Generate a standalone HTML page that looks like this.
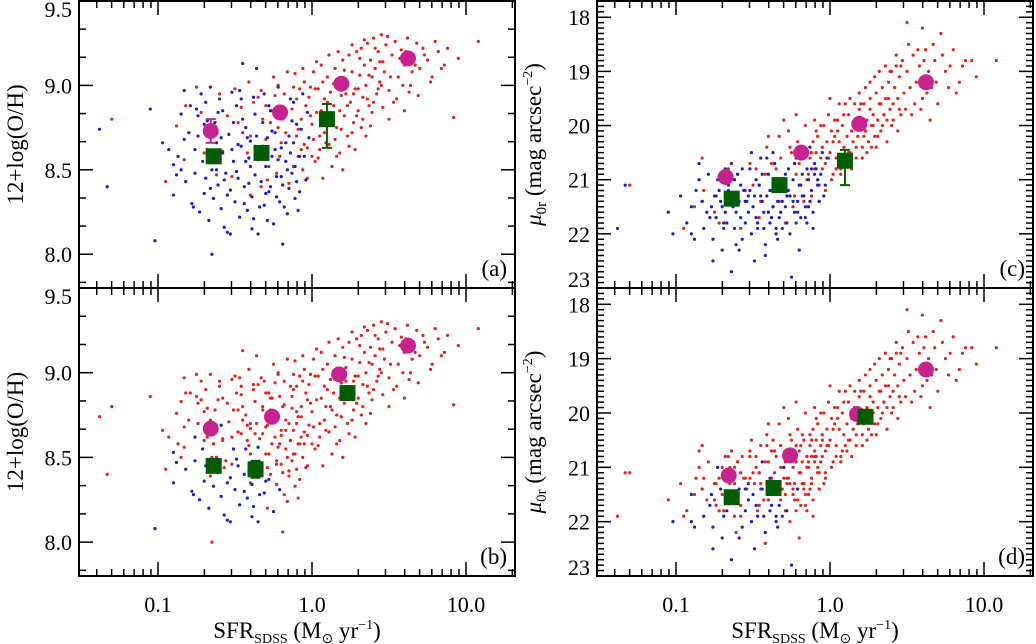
<!DOCTYPE html>
<html><head><meta charset="utf-8"><style>
html,body{margin:0;padding:0;background:#fff;}
svg{display:block;font-family:"Liberation Serif",serif;}
</style></head><body>
<svg id="fig" width="1036" height="644" viewBox="0 0 1036 644" xmlns="http://www.w3.org/2000/svg"></svg>
<script>
// galaxies: [log10 SFR, 12+log(O/H), mu0r, bottom-panel colour (1=red,0=blue)]
const blueGalaxies = [
[-1.38,8.74,21.9,1],[-1.33,8.40,21.1,1],[-1.05,8.86,21.6,1],[-1.02,8.08,22.0,0],[-0.97,8.66,21.3,1],[-0.93,8.62,21.8,1],[-0.90,8.53,21.5,0],[-0.88,8.47,22.1,0],[-0.87,8.58,21.2,1],[-0.85,8.83,21.0,1],
[-0.83,8.97,21.4,1],[-0.82,8.43,21.9,0],[-0.80,8.72,21.6,1],[-0.78,8.30,21.7,0],[-0.77,8.28,21.5,0],[-0.76,8.48,22.5,0],[-0.75,8.86,21.3,1],[-0.74,8.70,21.7,1],[-0.72,8.95,21.2,1],[-0.71,8.55,21.4,0],
[-0.70,8.36,22.3,0],[-0.69,8.45,21.9,0],[-0.68,8.62,21.6,1],[-0.67,8.20,21.8,0],[-0.66,8.99,21.1,1],[-0.65,8.50,21.3,1],[-0.64,8.33,22.7,0],[-0.63,8.78,21.5,1],[-0.62,8.66,21.9,1],[-0.61,8.41,21.6,0],
[-0.60,8.92,20.9,1],[-0.59,8.27,21.4,0],[-0.58,8.60,21.7,1],[-0.57,8.16,22.1,0],[-0.56,8.48,21.2,1],[-0.55,8.13,21.8,0],[-0.54,8.71,21.4,1],[-0.53,8.38,21.6,0],[-0.52,8.96,20.8,1],[-0.51,8.55,22.0,0],
[-0.50,8.31,21.5,0],[-0.49,8.88,21.3,1],[-0.48,8.45,21.7,0],[-0.47,8.22,21.9,0],[-0.46,8.64,21.1,1],[-0.45,9.13,20.6,1],[-0.44,8.40,21.4,0],[-0.43,8.75,21.6,1],[-0.42,8.26,22.2,0],[-0.41,8.57,21.3,1],
[-0.40,8.67,20.9,1],[-0.39,8.34,21.8,0],[-0.38,8.93,21.2,1],[-0.37,8.47,21.5,0],[-0.36,9.10,20.7,1],[-0.35,8.12,22.0,0],[-0.34,8.61,21.4,1],[-0.33,8.43,21.7,0],[-0.32,8.78,21.0,1],[-0.31,8.29,21.9,0],
[-0.30,8.52,21.2,1],[-0.29,8.69,21.5,1],[-0.28,8.37,21.8,0],[-0.27,8.85,20.8,1],[-0.26,8.58,21.3,1],[-0.25,8.18,22.8,0],[-0.24,8.72,21.0,1],[-0.23,8.46,21.6,1],[-0.22,8.99,20.6,1],[-0.21,8.31,21.4,0],
[-0.20,8.63,21.1,1],[-0.19,8.41,21.7,1],[-0.18,8.81,20.9,1],[-0.17,8.55,21.3,1],[-0.16,8.24,21.5,1],[-0.15,8.70,20.8,1],[-0.14,8.92,21.0,1],[-0.13,8.48,21.4,1],[-0.12,8.66,21.2,1],[-0.11,8.33,21.9,1],
[-0.10,8.77,20.7,1],[-0.08,8.58,21.1,1],[-0.06,8.95,20.9,1],[-0.04,8.44,21.3,1],[-0.02,8.69,20.6,1],[-0.65,8.00,21.0,1],[-0.58,8.85,21.1,1],[-0.48,8.65,21.0,1],[-0.40,8.52,21.6,1],[-0.32,8.64,21.6,1],
[-0.27,8.40,21.2,1],[-0.22,8.56,21.8,1],[-0.52,8.62,21.2,1],[-0.45,8.80,21.3,1],[-0.36,8.70,21.1,1],[-0.62,8.50,21.0,1],[-0.70,8.77,21.5,1],[-0.55,8.35,21.4,0],[-0.43,8.55,21.9,0],[-0.30,8.36,21.0,0],
[-0.18,8.28,21.3,1],[-0.24,8.62,21.4,1],[-0.16,8.50,21.7,1],[-0.12,8.90,20.8,1],[-0.08,8.37,21.0,1],[-0.83,8.68,21.4,1],[-0.74,8.82,21.3,1],[-0.66,8.39,21.2,1],[-0.46,8.92,21.1,1],[-0.38,8.21,21.7,0],
[-0.79,8.88,20.9,1],[-0.73,8.25,21.0,0],[-0.69,8.90,21.8,1],[-0.64,8.58,20.7,1],[-0.61,8.84,22.2,1],[-0.57,8.44,20.8,1],[-0.53,8.12,21.3,0],[-0.51,8.78,20.5,1],[-0.47,8.97,21.8,1],[-0.44,8.30,20.9,0],
[-0.42,8.69,22.4,1],[-0.39,8.15,21.2,0],[-0.37,8.83,20.5,1],[-0.34,8.28,22.1,0],[-0.31,8.95,21.4,1],[-0.29,8.20,20.9,1],[-0.26,8.73,22.0,1],[-0.23,8.34,20.7,1],[-0.21,8.86,21.6,1],[-0.19,8.06,21.1,1],
[-0.17,8.66,20.5,1],[-0.15,8.39,21.8,1],[-0.13,8.79,20.4,1],[-0.11,8.52,21.6,1],[-0.09,8.26,20.8,1],[-0.07,8.74,21.4,1],[-0.05,8.58,20.5,1],[-0.03,8.84,21.1,1],[-0.76,8.62,22.1,0],[-0.68,8.79,20.8,1],
[-0.59,8.69,22.3,0],[-0.49,8.49,22.5,0],[-0.41,8.42,20.6,1],[-0.35,8.56,21.9,0],[-0.28,8.88,21.3,1],[-0.20,8.46,22.3,1],[-0.14,8.60,21.5,1],[-0.10,8.43,20.9,1],[-0.85,8.50,20.7,1],[-0.90,8.35,22.0,0]
];
const redGalaxies = [
[-1.30,8.80,21.1],[-0.95,8.43,21.9],[-0.88,8.76,21.5],[-0.82,8.88,21.2],[-0.75,8.99,21.6],[-0.70,8.60,21.0],[-0.62,8.47,21.3],[-0.55,8.82,21.2],[-0.50,8.98,21.1],[-0.45,8.72,21.4],
[-0.40,8.35,21.6],[-0.35,8.93,20.8],[-0.32,8.80,20.6],[-0.28,8.52,21.2],[-0.25,9.05,20.5],[-0.22,8.75,20.9],[-0.20,8.66,20.7],[-0.18,8.95,20.4],[-0.15,8.42,21.0],[-0.13,8.86,20.6],
[-0.11,9.07,20.3],[-0.10,8.70,20.8],[-0.09,8.58,20.5],[-0.08,8.98,20.2],[-0.07,8.80,21.1],[-0.06,8.50,20.6],[-0.05,9.02,20.4],[-0.04,8.88,20.0],[-0.03,8.63,20.7],[-0.02,8.93,20.3],
[0.00,8.77,20.5],[0.01,9.08,20.1],[0.02,8.55,20.9],[0.03,8.84,20.2],[0.04,8.98,20.6],[0.05,8.70,19.9],[0.06,9.12,20.3],[0.07,8.45,20.8],[0.08,8.92,20.0],[0.09,8.80,20.4],
[0.10,9.05,20.6],[0.11,8.65,20.2],[0.12,8.96,19.8],[0.13,8.52,20.5],[0.14,8.88,20.1],[0.15,9.10,20.3],[0.16,8.75,19.9],[0.17,9.00,20.6],[0.18,8.60,20.2],[0.19,8.94,19.7],
[0.20,9.15,20.0],[0.21,8.82,20.4],[0.22,9.03,19.6],[0.23,8.70,20.1],[0.24,9.18,19.9],[0.25,8.90,20.3],[0.26,9.08,19.5],[0.27,8.78,20.0],[0.28,8.98,19.8],[0.29,9.20,20.2],
[0.30,8.85,19.4],[0.31,9.06,19.9],[0.32,9.22,19.6],[0.33,8.93,20.1],[0.34,9.12,19.3],[0.35,9.00,19.8],[0.36,9.25,19.5],[0.37,8.88,19.9],[0.38,9.15,19.2],[0.39,9.05,19.7],
[0.40,9.28,19.0],[0.41,9.10,19.6],[0.42,8.95,19.3],[0.43,9.20,18.9],[0.44,9.02,19.5],[0.45,9.30,19.1],[0.46,9.14,19.8],[0.47,9.08,18.8],[0.48,9.24,19.4],[0.50,8.97,19.0],
[0.52,9.18,19.3],[0.54,9.26,18.7],[0.56,9.05,19.2],[0.58,9.21,18.9],[0.60,9.12,19.5],[0.62,9.28,18.6],[0.64,9.00,19.0],[0.66,9.18,19.3],[0.68,9.25,18.8],[0.70,9.10,19.6],
[0.72,9.22,18.3],[0.75,9.15,19.0],[0.78,9.05,18.9],[0.82,9.20,19.4],[0.86,9.12,18.9],[0.92,8.81,18.8],[1.08,9.26,18.8],[0.50,8.80,18.1],[0.35,8.70,19.8],[0.28,8.62,20.0],
[-0.38,8.90,20.7],[-0.30,8.68,21.0],[-0.26,8.85,20.4],[-0.23,8.48,21.3],[-0.19,8.80,20.6],[-0.14,8.60,20.9],[-0.12,8.99,20.5],[-0.09,8.74,20.1],[-0.05,8.65,20.8],[-0.01,8.82,20.6],
[0.02,8.98,20.3],[0.05,8.62,20.1],[0.08,8.72,20.7],[0.12,8.80,20.5],[0.15,8.68,20.0],[0.18,8.85,19.9],[0.22,8.95,20.2],[0.26,8.72,19.7],[0.30,8.98,20.4],[0.33,8.80,19.6],
[-0.60,8.95,20.9],[-0.48,8.78,20.8],[-0.42,8.60,20.9],[-0.33,8.40,21.4],[0.40,8.90,20.0],[0.45,9.00,19.7],[0.55,8.92,19.6],[0.65,9.08,19.9],[0.38,8.76,19.5],[0.10,8.90,19.6],
[-0.83,8.56,20.6],[-0.72,8.84,21.8],[-0.66,8.72,20.8],[-0.58,8.61,21.9],[-0.52,8.46,20.7],[-0.46,8.87,21.7],[-0.41,9.02,20.4],[-0.37,8.64,21.5],[-0.33,8.97,20.2],[-0.29,8.44,21.8],
[-0.27,8.78,20.1],[-0.24,8.94,21.5],[-0.21,8.58,20.3],[-0.17,8.72,21.4],[-0.16,9.08,20.0],[-0.12,8.52,21.3],[-0.10,8.92,19.9],[-0.07,8.62,21.4],[-0.06,9.10,20.0],[-0.03,8.45,21.2],
[-0.01,8.99,19.8],[0.01,8.68,21.0],[0.03,9.14,19.9],[0.04,8.57,20.8],[0.06,8.85,19.6],[0.07,9.02,20.9],[0.09,8.66,19.8],[0.11,9.18,20.7],[0.13,8.78,19.5],[0.14,9.01,20.8],
[0.16,8.58,19.6],[0.17,9.20,20.4],[0.19,8.74,19.4],[0.21,9.09,20.6],[0.23,8.88,19.3],[0.24,8.64,20.5],[0.26,9.24,19.2],[0.27,8.95,20.4],[0.29,8.82,19.1],[0.31,9.16,20.2],
[0.32,8.75,19.0],[0.34,9.27,20.0],[0.36,8.92,18.9],[0.37,9.06,20.3],[0.39,8.84,19.0],[0.41,9.22,19.9],[0.43,8.98,18.7],[0.44,9.14,20.1],[0.46,8.87,18.9],[0.49,9.29,19.7],
[0.51,9.05,18.5],[0.53,8.90,19.8],[0.57,9.16,18.6],[0.59,9.00,19.7],[0.61,9.20,18.8],[0.63,8.96,19.4],[0.67,9.12,18.5],[0.69,8.94,19.2],[0.73,9.18,18.7],[0.77,9.02,19.3],
[0.80,9.26,18.6],[0.84,9.10,19.2],[0.88,9.22,18.8],[0.95,9.16,19.1],[-0.40,8.70,20.2],[-0.30,8.88,19.9],[-0.22,9.00,19.8],[0.00,8.58,19.5],[0.20,8.50,19.6],[0.60,8.85,18.2]
];
// binned means: SFR, value, error lo, error hi (0 = no bar)
const circA = [[0.22,8.73,8.66,8.80],[0.62,8.84,0,0],[1.55,9.01,0,0],[4.2,9.16,0,0]];
const sqA   = [[0.23,8.58,0,0],[0.47,8.60,0,0],[1.25,8.80,8.63,8.89]];
const circB = [[0.22,8.67,0,0],[0.55,8.74,0,0],[1.5,8.99,0,0],[4.2,9.16,0,0]];
const sqB   = [[0.23,8.45,0,0],[0.43,8.43,8.38,8.48],[1.7,8.88,0,0]];
const circC = [[0.21,20.95,0,0],[0.65,20.5,0,0],[1.55,19.97,0,0],[4.2,19.2,0,0]];
const sqC   = [[0.23,21.35,0,0],[0.47,21.1,0,0],[1.25,20.65,20.45,21.1]];
const circD = [[0.22,21.15,0,0],[0.55,20.78,0,0],[1.5,20.02,0,0],[4.2,19.2,0,0]];
const sqD   = [[0.23,21.55,0,0],[0.43,21.38,0,0],[1.7,20.07,0,0]];
const xTickLabels = ["0.1","1.0","10.0"];
const ohTickLabels = ["8.0","8.5","9.0","9.5"];
const muTickLabels = ["18","19","20","21","22","23"];

const NS="http://www.w3.org/2000/svg";
const svg=document.getElementById('fig');
function el(tag,attrs,parent){const e=document.createElementNS(NS,tag);for(const k in attrs)e.setAttribute(k,attrs[k]);(parent||svg).appendChild(e);return e;}

const panels=[
 {id:'a',x0:79,top:1,bot:288,ymin:7.8,ymax:9.5,inv:false,k:1,circ:circA,sq:sqA,bottomAxis:false},
 {id:'b',x0:79,top:288,bot:576,ymin:7.8,ymax:9.5,inv:false,k:1,circ:circB,sq:sqB,bottomAxis:true},
 {id:'c',x0:597,top:1,bot:288,ymin:17.7,ymax:23,inv:true,k:2,circ:circC,sq:sqC,bottomAxis:false},
 {id:'d',x0:597,top:288,bot:576,ymin:17.7,ymax:23,inv:true,k:2,circ:circD,sq:sqD,bottomAxis:true}
];
const W=436;
panels.forEach(p=>{
  const g=el('g',{});
  
  
  const xs=l=>p.x0+233+154*l;
  const ys=v=>p.inv? p.top+(v-p.ymin)/(p.ymax-p.ymin)*(p.bot-p.top) : p.bot-(v-p.ymin)/(p.ymax-p.ymin)*(p.bot-p.top);
  const top = (p.id==='a'||p.id==='c');
  redGalaxies.forEach(r=>{
    const c=el('circle',{cx:xs(r[0]),cy:ys(r[p.k]),r:1.6,fill:'#e0241c'},g);
    
    
  });
  blueGalaxies.forEach(r=>{
    const red = !top && r[3]===1;
    const c=el('circle',{cx:xs(r[0]),cy:ys(r[p.k]),r:1.6,fill:red?'#e0241c':'#1c1cc8'},g);
    
    
  });
  function ebar(d,col){ if(!d[2])return; const x=xs(Math.log10(d[0]));
    el('line',{x1:x,x2:x,y1:ys(d[2]),y2:ys(d[3]),stroke:col,'stroke-width':2},g);
    [d[2],d[3]].forEach(v=>el('line',{x1:x-5,x2:x+5,y1:ys(v),y2:ys(v),stroke:col,'stroke-width':2},g)); }
  p.circ.forEach(d=>{ebar(d,'#c0208a');
    const c=el('circle',{cx:xs(Math.log10(d[0])),cy:ys(d[1]),r:8,fill:'#c8228e'},g);
    
    });
  p.sq.forEach(d=>{ebar(d,'#006000');
    const s=el('rect',{x:xs(Math.log10(d[0]))-8,y:ys(d[1])-8,width:16,height:16,fill:'#005c00'},g);
    
    });
  el('rect',{x:p.x0,y:p.top,width:W,height:p.bot-p.top,fill:'none',stroke:'#000','stroke-width':2},g);
  for(let dec=-2;dec<=1;dec++)for(let m=1;m<=9;m++){
    const l=dec+Math.log10(m); if(l<-1.5||l>1.31)continue;
    const x=xs(l), len=m===1?14:7;
    el('line',{x1:x,x2:x,y1:p.top,y2:p.top+len,stroke:'#000','stroke-width':1.5},g);
    el('line',{x1:x,x2:x,y1:p.bot,y2:p.bot-len,stroke:'#000','stroke-width':1.5},g);
  }
  const major=p.inv?1:0.5, minor=p.inv?0.1:0.5/3;
  for(let v=Math.ceil(p.ymin/minor-1e-6)*minor; v<=p.ymax+1e-6; v+=minor){
    const isMaj=Math.abs(v/major-Math.round(v/major))<1e-3, y=ys(v), len=isMaj?14:7;
    el('line',{x1:p.x0,x2:p.x0+len,y1:y,y2:y,stroke:'#000','stroke-width':1.5},g);
    el('line',{x1:p.x0+W,x2:p.x0+W-len,y1:y,y2:y,stroke:'#000','stroke-width':1.5},g);
  }
  const labs=p.inv?muTickLabels:ohTickLabels;
  labs.forEach(s=>{const v=parseFloat(s); const t=el('text',{x:p.x0-7,y:Math.min(Math.max(ys(v)+8,p.top+16),p.bot-1),'text-anchor':'end','font-size':22},g); t.textContent=s;
     });
  const pl=el('text',{x:p.x0+W-8,y:p.bot-12,'text-anchor':'end','font-size':23},g); pl.textContent='('+p.id+')';
   
  const tx=p.x0-56, ty=(p.top+p.bot)/2;
  const yt=el('text',{x:tx,y:ty,'text-anchor':'middle','font-size':23,transform:`rotate(-90 ${tx} ${ty})`},g);
   
  if(p.inv){ yt.innerHTML='<tspan font-style="italic">μ</tspan><tspan font-size="15" dy="5">0r</tspan><tspan dy="-5"> (mag arcsec</tspan><tspan font-size="14" dy="-9">−2</tspan><tspan dy="9">)</tspan>'; }
  else yt.textContent='12+log(O/H)';
  if(p.bottomAxis){
    xTickLabels.forEach(s=>{const t=el('text',{x:xs(Math.log10(parseFloat(s))),y:p.bot+36,'text-anchor':'middle','font-size':22},g); t.textContent=s;
       });
    const xt=el('text',{x:p.x0+W/2,y:p.bot+62,'text-anchor':'middle','font-size':23},g);
    xt.innerHTML='SFR<tspan font-size="14" dy="5">SDSS</tspan><tspan dy="-5"> (M</tspan><tspan font-size="14" dy="5">⊙</tspan><tspan dy="-5"> yr</tspan><tspan font-size="14" dy="-9">−1</tspan><tspan dy="9">)</tspan>';
     
  }
});
</script>
</body></html>
